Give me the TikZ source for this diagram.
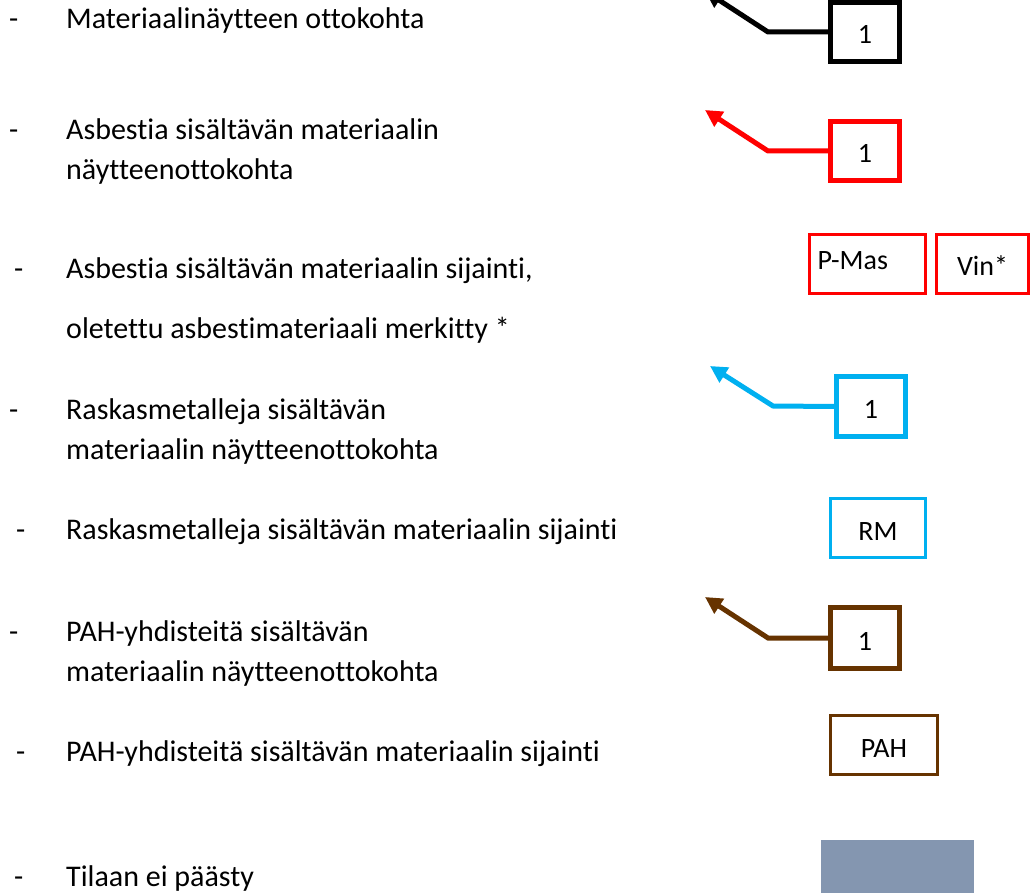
\documentclass[tikz,border=0pt]{standalone}
\usepackage{fontspec}
\setmainfont{Carlito}[Ligatures=NoCommon]
\usetikzlibrary{arrows.meta}
\definecolor{asbred}{HTML}{FF0000}
\definecolor{rmblue}{HTML}{00B0F0}
\definecolor{pahbrown}{HTML}{663300}
\definecolor{nogray}{HTML}{8496B0}
\begin{document}
\begin{tikzpicture}[x=1pt,y=-1pt,
  lbl/.style={anchor=base west, inner sep=0pt, font=\fontsize{30}{36}\selectfont},
  markbox/.style={draw=#1, line width=5pt, fill=white, minimum width=69pt, minimum height=59pt, inner sep=0pt, text height=24pt, text depth=0pt, font=\fontsize{28}{32}\selectfont},
  areabox/.style={draw=#1, line width=3pt, minimum height=59pt, inner sep=0pt, text height=24pt, text depth=0pt, font=\fontsize{28}{32}\selectfont},
  pointer/.style={draw=#1, line width=5pt, line join=miter, -{Triangle[length=17pt,width=17pt]}}
]
\useasboundingbox (0,0) rectangle (1030,893);

% legend texts
\node[lbl] (d1) at (9,29) {-};
\node[lbl] (l1) at (66,29) {Materiaalinäytteen ottokohta};
\node[lbl] (d2) at (9,140) {-};
\node[lbl] (l2a) at (66,140) {Asbestia sisältävän materiaalin};
\node[lbl] (l2b) at (66,180) {näytteenottokohta};
\node[lbl] (d3) at (14,278) {-};
\node[lbl] (l3a) at (66,278) {Asbestia sisältävän materiaalin sijainti,};
\node[lbl] (l3b) at (66,338) {oletettu asbestimateriaali merkitty *};
\node[lbl] (d4) at (9,419) {-};
\node[lbl] (l4a) at (66,419) {Raskasmetalleja sisältävän};
\node[lbl] (l4b) at (66,459) {materiaalin näytteenottokohta};
\node[lbl] (d5) at (16,539) {-};
\node[lbl] (l5) at (66,539) {Raskasmetalleja sisältävän materiaalin sijainti};
\node[lbl] (d6) at (9,641) {-};
\node[lbl] (l6a) at (66,641) {PAH-yhdisteitä sisältävän};
\node[lbl] (l6b) at (66,681) {materiaalin näytteenottokohta};
\node[lbl] (d7) at (16,761) {-};
\node[lbl] (l7) at (66,761) {PAH-yhdisteitä sisältävän materiaalin sijainti};
\node[lbl] (d8) at (14,886) {-};
\node[lbl] (l8) at (66,886) {Tilaan ei päästy};

% sample point markers
\coordinate (k1) at (768,32);  \coordinate (p1) at (705,-9);
\coordinate (k2) at (768,151); \coordinate (p2) at (705,110);
\coordinate (k3) at (773,406); \coordinate (p3) at (710,366);
\coordinate (k4) at (768,638); \coordinate (p4) at (705,597);

\node[markbox=black] (b1) at (865,32) {1};
\node[markbox=asbred] (b2) at (865,151) {1};
\node[markbox=rmblue, minimum height=60pt] (b3) at (871,406.5) {1};
\node[markbox=pahbrown, minimum height=61pt] (b4) at (865,638) {1};

\draw[pointer=black] (b1.west) -- (k1) -- (p1);
\draw[pointer=asbred] (b2.west) -- (k2) -- (p2);
\draw[pointer=rmblue] (b3.west) -- (k3) -- (p3);
\draw[pointer=pahbrown] (b4.west) -- (k4) -- (p4);

% area markers
\node[areabox=asbred, text width=100pt, inner xsep=8pt, align=left, text height=19pt, text depth=8pt] (pmas) at (867.5,264) {P-Mas};
\node[areabox=asbred, minimum width=92pt] (vin) at (982.5,264) {Vin*};
\node[areabox=rmblue, minimum width=95pt] (rm) at (878,528) {RM};
\node[areabox=pahbrown, minimum width=107pt] (pah) at (884,745) {PAH};

% no access
\fill[nogray] (821,840) rectangle (974,893);
\end{tikzpicture}
\end{document}
